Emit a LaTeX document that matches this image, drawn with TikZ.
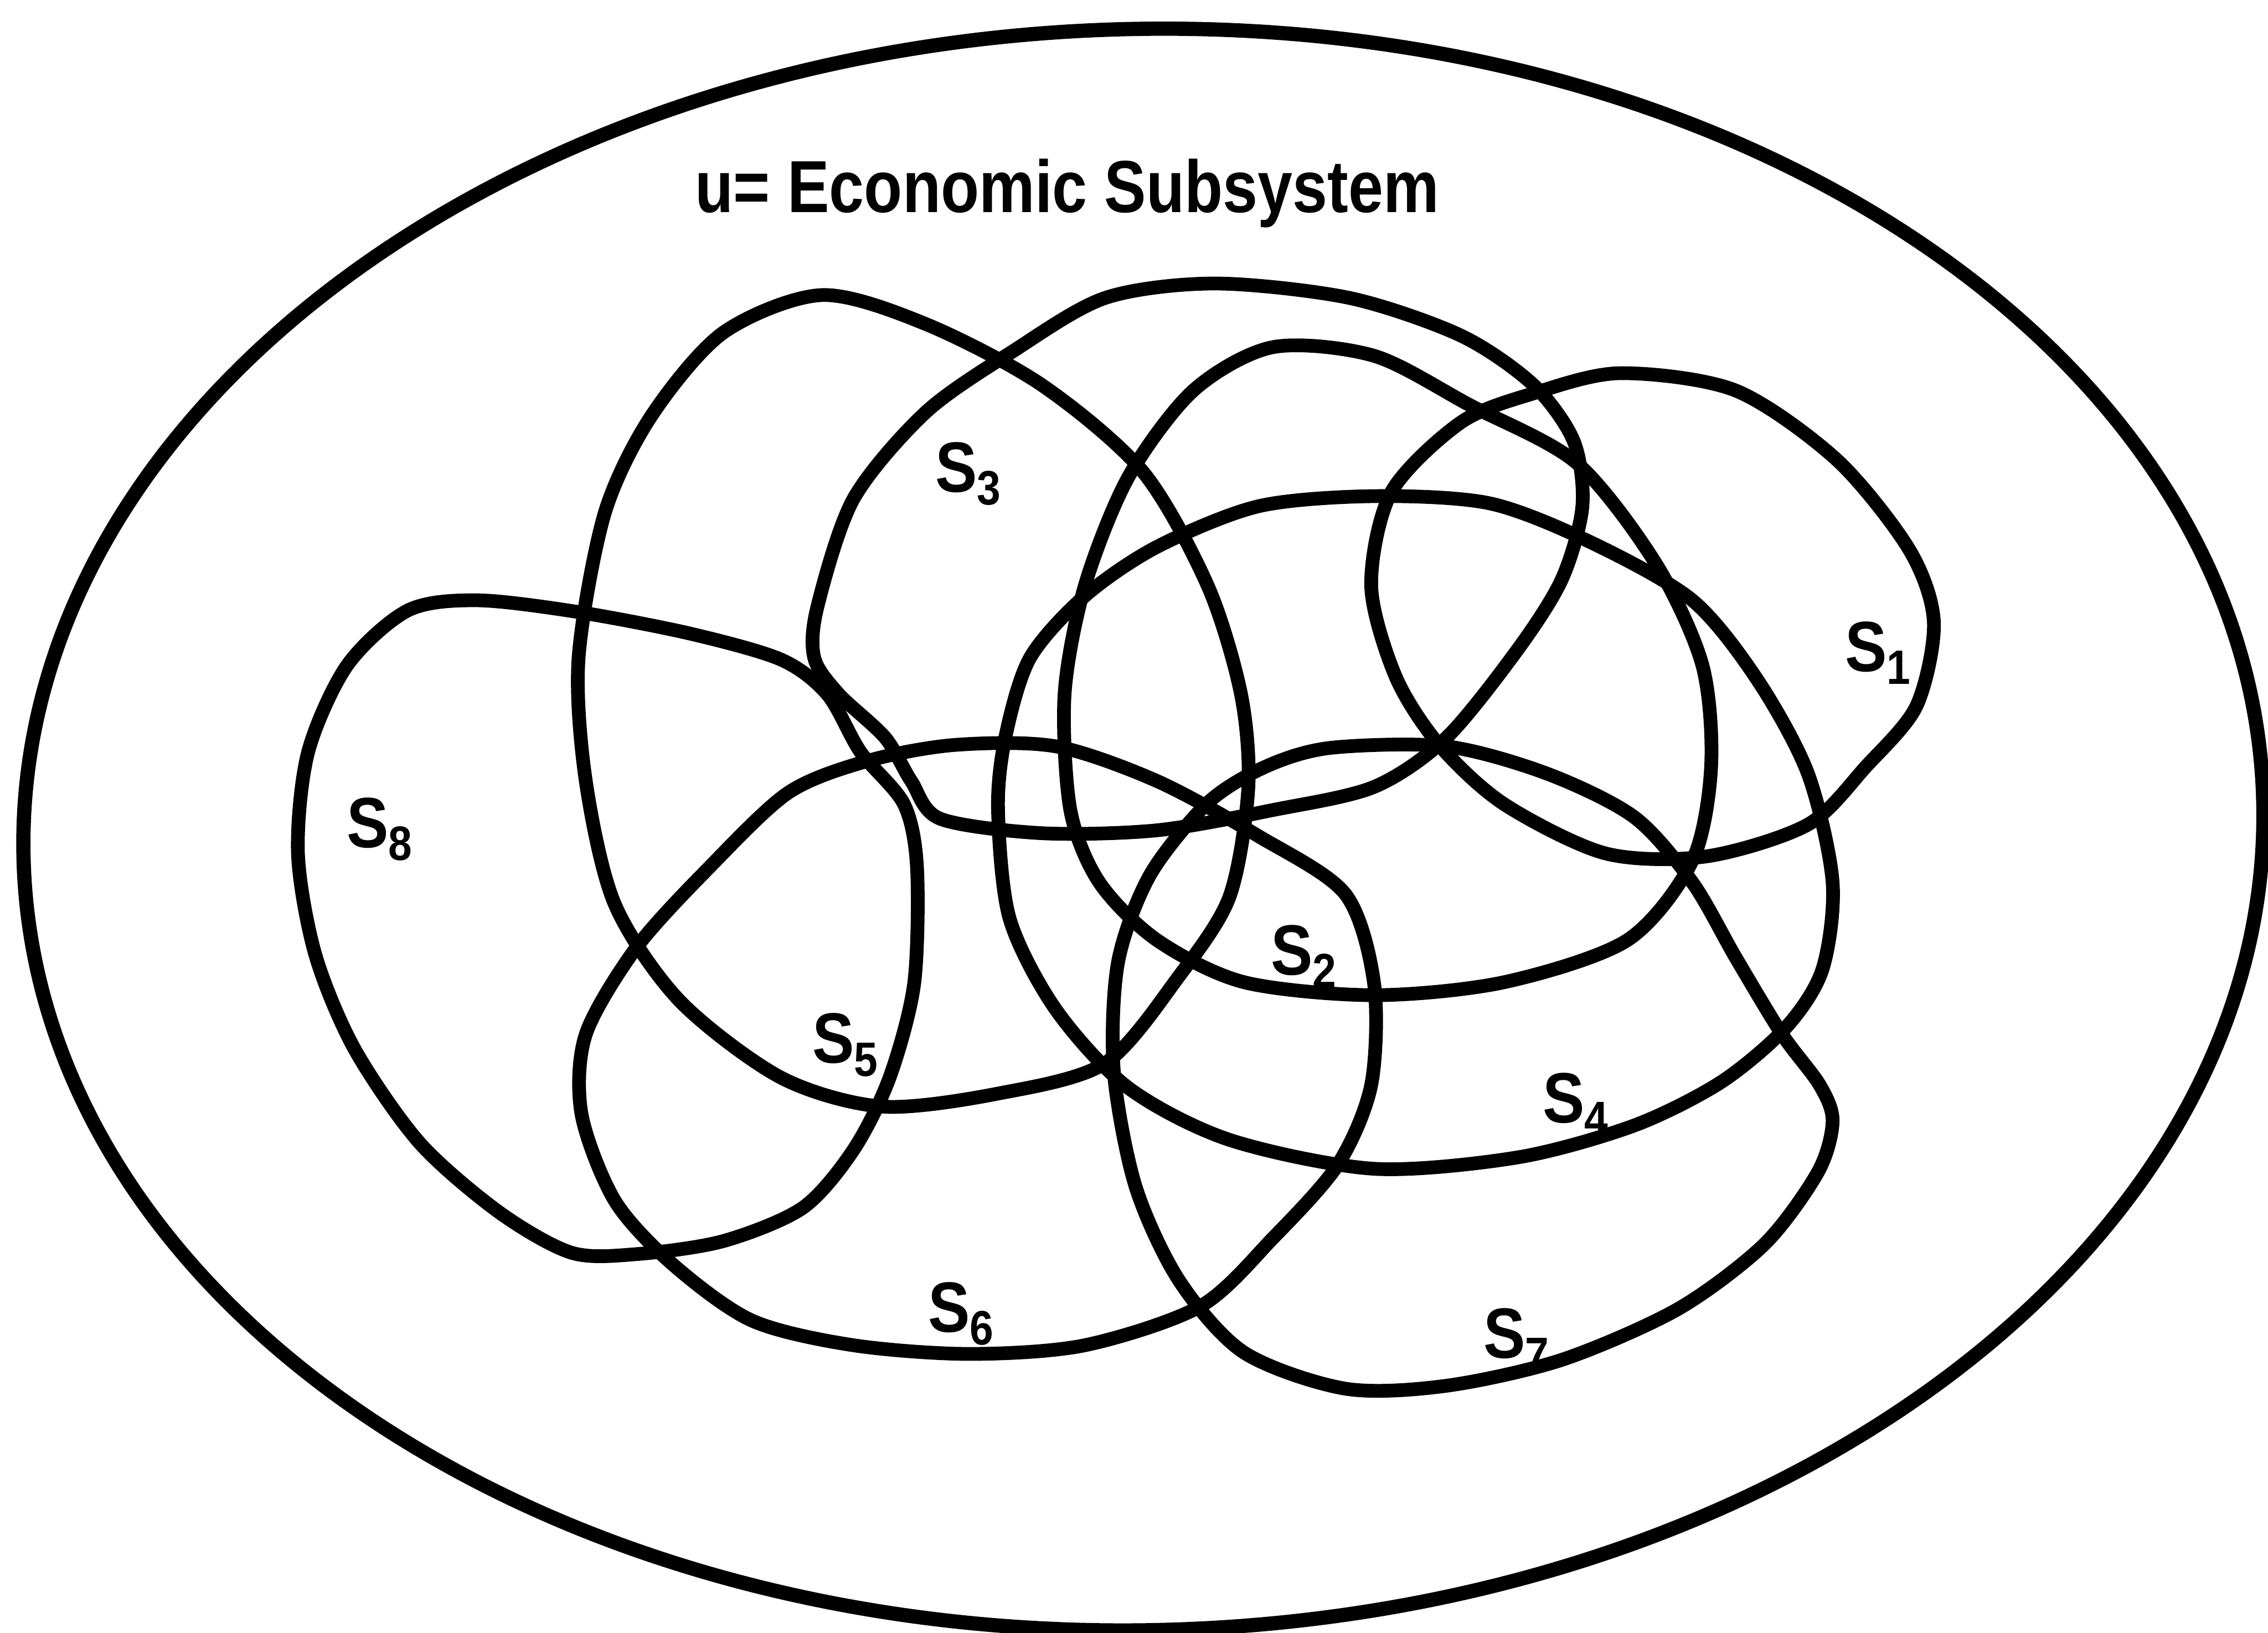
\documentclass[tikz,border=0pt]{standalone}
\usepackage{fontspec}
\setmainfont{Liberation Sans}
\newcommand{\slab}[1]{\bfseries\scalebox{0.88}[1]{S\raisebox{-0.18em}{\fontsize{9.5}{9.5}\selectfont #1}}}
\begin{document}
\begin{tikzpicture}[x=0.01cm,y=-0.01cm,
  setline/.style={line width=2.7pt,line join=round},
  lbl/.style={anchor=base west,inner sep=0pt,font=\fontsize{14}{14}\selectfont},
  ttl/.style={anchor=base west,inner sep=0pt,font=\fontsize{14.5}{14.5}\selectfont\bfseries}]
\useasboundingbox (0,0) rectangle (1568,1128.6);
% universe
\draw[line width=2.8pt,rotate around={1.5:(790.5,573.5)}] (790.5,573.5) ellipse [x radius=774.5,y radius=553.5];
\node[ttl] (title) at (480,147) {\scalebox{0.85}[1]{u= Economic Subsystem}};
% S8
\draw[setline] plot[smooth cycle,tension=0.5] coordinates {(282,422) (330,415) (399,423) (477,438) (540,456) (572,480) (595,520) (625,556) (634,600) (632,680) (615,745) (590,795) (555,835) (500,858) (440,867) (395,866) (345,838) (290,790) (245,725) (218,660) (206,590) (213,520) (240,460)};
% S3
\draw[setline] plot[smooth cycle,tension=0.5] coordinates {(565,420) (590,345) (640,285) (700,243) (764,206) (840,196) (933,206) (1010,232) (1060,266) (1088,305) (1094,350) (1080,400) (1050,448) (1000,510) (950,544) (880,560) (800,574) (720,576) (650,566) (630,540) (612,510) (580,480) (563,455)};
% S5
\draw[setline] plot[smooth cycle,tension=0.5] coordinates {(500,230) (568,204) (640,224) (720,266) (790,326) (835,405) (858,480) (863,545) (850,620) (815,675) (764,735) (690,756) (610,765) (540,745) (470,692) (425,625) (405,540) (400,455) (418,355) (450,288)};
% S1
\draw[setline] plot[smooth cycle,tension=0.5] coordinates {(1120,258) (1200,270) (1270,318) (1320,380) (1337,430) (1325,488) (1290,530) (1250,570) (1180,592) (1110,590) (1040,556) (995,515) (965,468) (948,405) (962,340) (1010,292) (1060,272)};
% S2
\draw[setline] plot[smooth cycle,tension=0.5] coordinates {(880,240) (950,246) (1016,280) (1090,320) (1145,390) (1177,460) (1183,530) (1170,595) (1125,650) (1040,679) (950,688) (860,679) (800,650) (760,610) (740,560) (736,480) (750,405) (780,330) (825,270)};
% S4
\draw[setline] plot[smooth cycle,tension=0.5] coordinates {(690,560) (698,635) (730,698) (780,752) (850,788) (950,808) (1050,800) (1130,778) (1190,748) (1235,710) (1260,670) (1267,610) (1250,535) (1215,470) (1170,415) (1100,375) (1030,348) (950,343) (870,350) (800,378) (750,412) (712,455) (695,510)};
% S6
\draw[setline] plot[smooth cycle,tension=0.5] coordinates {(600,526) (660,515) (730,516) (800,540) (870,578) (930,618) (950,680) (948,750) (925,805) (880,856) (830,903) (750,930) (670,936) (590,930) (520,913) (465,874) (425,830) (402,770) (405,715) (440,655) (490,600) (545,548)};
% S7
\draw[setline] plot[smooth cycle,tension=0.5] coordinates {(920,517) (1000,516) (1070,535) (1130,565) (1170,610) (1200,662) (1232,715) (1258,750) (1267,775) (1257,810) (1220,860) (1160,905) (1080,940) (1000,958) (930,960) (860,935) (815,885) (785,820) (770,740) (773,665) (795,605) (835,555) (875,530)};
% labels
\node[lbl] (s1) at (1275,464) {\slab{1}};
\node[lbl] (s2) at (878,674) {\slab{2}};
\node[lbl] (s3) at (646,340) {\slab{3}};
\node[lbl] (s4) at (1066,776) {\slab{4}};
\node[lbl] (s5) at (561,735) {\slab{5}};
\node[lbl] (s6) at (641,921) {\slab{6}};
\node[lbl] (s7) at (1025,939) {\slab{7}};
\node[lbl] (s8) at (239,586) {\slab{8}};
\end{tikzpicture}
\end{document}
